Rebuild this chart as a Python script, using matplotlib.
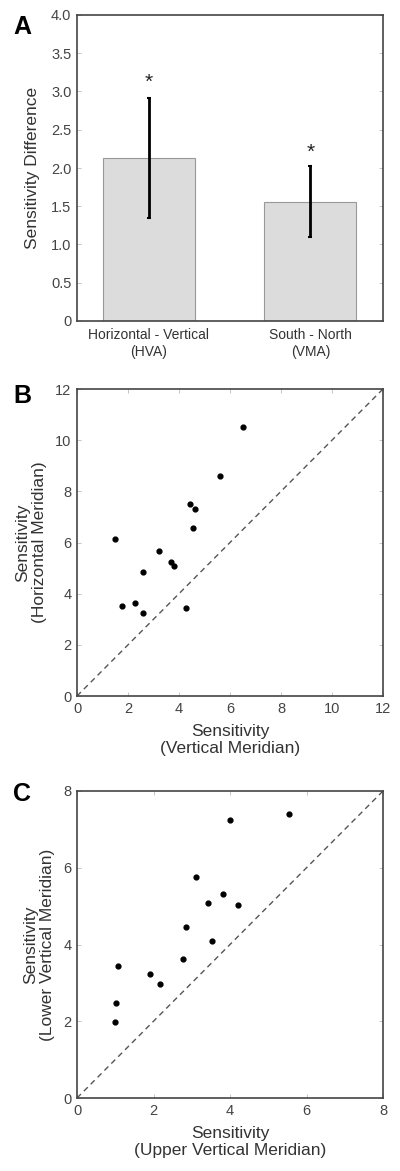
import matplotlib.pyplot as plt

plt.rcParams['font.family'] = ['Liberation Sans', 'DejaVu Sans']

# Panel A
bar_labels = ['Horizontal - Vertical\n(HVA)', 'South - North\n(VMA)']
bar_values = [2.13, 1.56]
err_low = [1.34, 1.10]
err_high = [2.92, 2.02]
star_y = [3.12, 2.21]

# Panel B
vert_sens = [6.50, 5.62, 4.43, 4.63, 4.56, 1.49, 3.21, 3.67, 3.81, 2.58, 2.27, 1.76, 2.58, 4.27]
horiz_sens = [10.50, 8.60, 7.49, 7.29, 6.55, 6.14, 5.65, 5.24, 5.10, 4.85, 3.64, 3.50, 3.23, 3.44]

# Panel C
upper_sens = [5.55, 3.99, 3.10, 3.82, 3.42, 4.22, 2.84, 3.52, 2.77, 1.07, 1.90, 2.18, 1.03, 1.00]
lower_sens = [7.41, 7.24, 5.76, 5.31, 5.09, 5.03, 4.46, 4.09, 3.63, 3.45, 3.22, 2.98, 2.47, 1.98]

W, H = 400, 1171
fig = plt.figure(figsize=(W / 100, H / 100), dpi=100)


def add_axes(left, top, right, bottom):
    return fig.add_axes([left / W, 1 - bottom / H, (right - left) / W, (bottom - top) / H])


def style(ax):
    for s in ax.spines.values():
        s.set_color('#444444')
        s.set_linewidth(1.2)
    ax.tick_params(direction='in', length=3, width=0.6, color='#bbbbbb',
                   labelsize=10.5, labelcolor='#444444', top=True, right=True, pad=4)


# --- A ---
axA = add_axes(77, 15, 383, 321)
xpos = [1, 2]
axA.bar(xpos, bar_values, width=0.57, color='#dcdcdc', edgecolor='#999999', linewidth=0.8)
yerr = [[v - lo for v, lo in zip(bar_values, err_low)],
        [hi - v for v, hi in zip(bar_values, err_high)]]
axA.errorbar(xpos, bar_values, yerr=yerr, fmt='none', ecolor='black', elinewidth=2,
             capsize=1.5, capthick=1.5)
for x, y in zip(xpos, star_y):
    axA.text(x, y, '*', ha='center', va='center', fontsize=15, color='#222222')
axA.set_xlim(0.555, 2.45)
axA.set_ylim(0, 4)
axA.set_yticks([0, 0.5, 1, 1.5, 2, 2.5, 3, 3.5, 4])
axA.set_yticklabels(['0', '0.5', '1.0', '1.5', '2.0', '2.5', '3.0', '3.5', '4.0'])
axA.set_xticks(xpos)
axA.set_xticklabels(bar_labels, linespacing=1.3)
style(axA)
axA.tick_params(axis='x', length=0, labelsize=10, labelcolor='#333333', pad=5)
axA.set_ylabel('Sensitivity Difference', fontsize=12.5, color='#333333', labelpad=8)
fig.text(13 / W, 1 - 27 / H, 'A', fontsize=18, fontweight='bold', va='center', ha='left')

# --- B ---
axB = add_axes(77, 389, 383, 696)
axB.plot([0, 12], [0, 12], ls=(0, (4, 3)), color='#555555', lw=1)
axB.scatter(vert_sens, horiz_sens, s=12, color='black', zorder=3)
axB.set_xlim(0, 12)
axB.set_ylim(0, 12)
axB.set_xticks(range(0, 13, 2))
axB.set_yticks(range(0, 13, 2))
style(axB)
axB.set_xlabel('Sensitivity\n(Vertical Meridian)', fontsize=12.5, color='#333333',
               labelpad=6, linespacing=1.15)
axB.set_ylabel('Sensitivity\n(Horizontal Meridian)', fontsize=12.5, color='#333333',
               labelpad=6, linespacing=1.15)
fig.text(13 / W, 1 - 396 / H, 'B', fontsize=18, fontweight='bold', va='center', ha='left')

# --- C ---
axC = add_axes(77, 791, 383, 1098)
axC.plot([0, 8], [0, 8], ls=(0, (4, 3)), color='#555555', lw=1)
axC.scatter(upper_sens, lower_sens, s=12, color='black', zorder=3)
axC.set_xlim(0, 8)
axC.set_ylim(0, 8)
axC.set_xticks(range(0, 9, 2))
axC.set_yticks(range(0, 9, 2))
style(axC)
axC.set_xlabel('Sensitivity\n(Upper Vertical Meridian)', fontsize=12.5, color='#333333',
               labelpad=6, linespacing=1.15)
axC.set_ylabel('Sensitivity\n(Lower Vertical Meridian)', fontsize=12.5, color='#333333',
               labelpad=6, linespacing=1.15)
fig.text(13 / W, 1 - 794 / H, 'C', fontsize=18, fontweight='bold', va='center', ha='left')

fig.savefig('out.png', dpi=100)
